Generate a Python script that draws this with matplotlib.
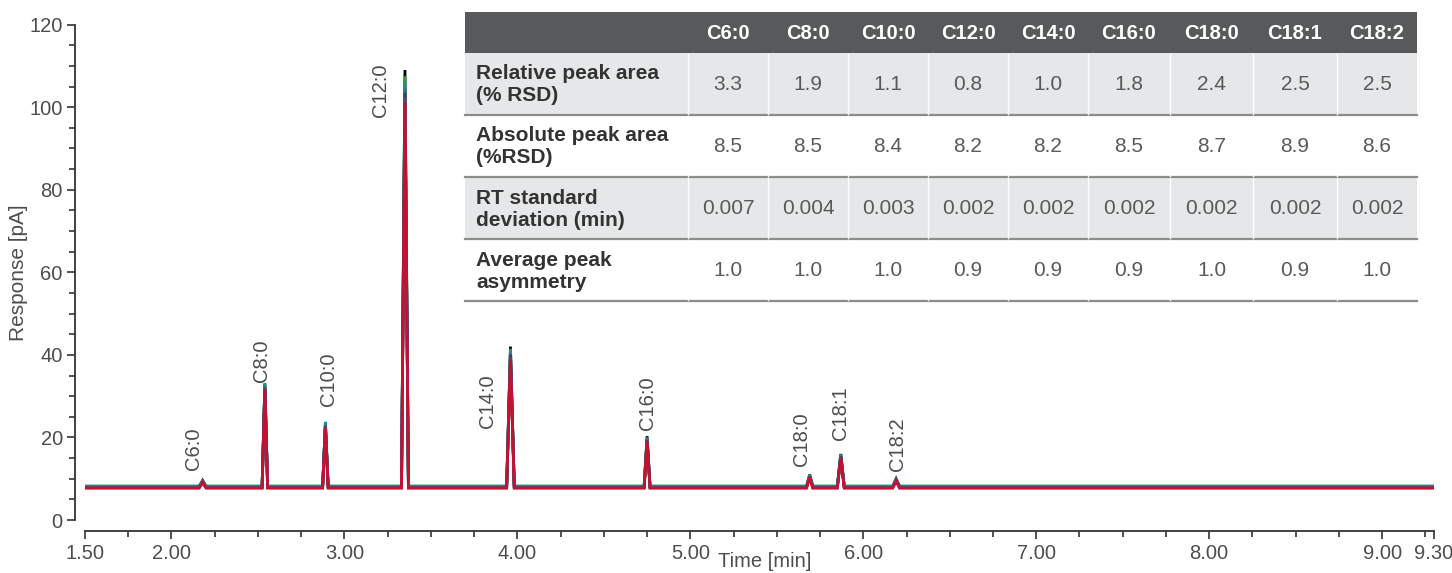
import numpy as np
import matplotlib
matplotlib.use("Agg")
import matplotlib.pyplot as plt
from matplotlib.patches import Rectangle
from matplotlib.ticker import MultipleLocator, FixedLocator

plt.rcParams['font.family'] = ['Liberation Sans', 'DejaVu Sans']

# peaks
compounds = ["C6:0", "C8:0", "C10:0", "C12:0", "C14:0", "C16:0", "C18:0", "C18:1", "C18:2"]
peak_rt = [2.18, 2.54, 2.89, 3.35, 3.96, 4.75, 5.69, 5.87, 6.19]
peak_halfwidth = [0.02, 0.016, 0.016, 0.02, 0.022, 0.017, 0.018, 0.02, 0.02]

# replicate runs (colour, baseline, peak heights)
run_colors = ["#000000", "#2e9e3a", "#16948f", "#4b6a7a", "#2c3f73", "#6a3d7c", "#c8102e"]
run_baseline = [8.1, 8.2, 8.2, 8.0, 7.9, 7.9, 7.7]
run_heights = [
    [9.6, 33.0, 23.6, 109.0, 42.0, 20.3, 11.0, 16.0, 10.0],
    [9.5, 32.6, 23.3, 107.5, 41.5, 20.0, 10.9, 15.8, 9.9],
    [9.4, 33.2, 23.8, 106.0, 41.2, 19.8, 10.8, 15.9, 9.8],
    [9.3, 32.4, 23.0, 104.5, 40.5, 19.6, 10.6, 15.6, 9.7],
    [9.2, 32.0, 22.8, 103.5, 40.0, 19.4, 10.5, 15.4, 9.6],
    [9.1, 31.8, 22.6, 102.5, 39.5, 19.2, 10.4, 15.2, 9.5],
    [9.0, 31.5, 22.3, 101.0, 38.8, 19.0, 10.3, 15.0, 9.4],
]

# peak label anchors (time, response at bottom of rotated text)
label_x = [2.13, 2.52, 2.91, 3.21, 3.83, 4.75, 5.64, 5.87, 6.20]
label_y = [12.0, 33.5, 27.5, 97.5, 22.3, 21.8, 13.0, 19.3, 11.8]

# table
table_cols = compounds
table_rows = ["Relative peak area\n(% RSD)", "Absolute peak area\n(%RSD)",
              "RT standard\ndeviation (min)", "Average peak\nasymmetry"]
table_vals = [
    ["3.3", "1.9", "1.1", "0.8", "1.0", "1.8", "2.4", "2.5", "2.5"],
    ["8.5", "8.5", "8.4", "8.2", "8.2", "8.5", "8.7", "8.9", "8.6"],
    ["0.007", "0.004", "0.003", "0.002", "0.002", "0.002", "0.002", "0.002", "0.002"],
    ["1.0", "1.0", "1.0", "0.9", "0.9", "0.9", "1.0", "0.9", "1.0"],
]

t_start, t_end = 1.50, 9.30
xticks = [1.5, 2, 3, 4, 5, 6, 7, 8, 9, 9.3]
xticklabels = ["1.50", "2.00", "3.00", "4.00", "5.00", "6.00", "7.00", "8.00", "9.00", "9.30"]

W, H = 1452, 573
fig = plt.figure(figsize=(W / 100, H / 100), dpi=100)
ax = fig.add_axes([85 / W, 1 - 520 / H, (1434 - 85) / W, (520 - 24.6) / H])

txt = "#4d4d4d"

for color, base, heights in zip(run_colors, run_baseline, run_heights):
    xs = [t_start]
    ys = [base]
    for rt, hw, h in zip(peak_rt, peak_halfwidth, heights):
        xs += [rt - hw, rt, rt + hw]
        ys += [base, h, base]
    xs.append(t_end)
    ys.append(base)
    ax.plot(xs, ys, color=color, lw=2.0, solid_joinstyle="miter")

for name, lx, ly in zip(compounds, label_x, label_y):
    ax.text(lx, ly, name, rotation=90, ha="center", va="bottom", fontsize=14.5, color=txt)

ax.set_xlim(t_start, t_end)
ax.set_ylim(0, 120)
for s in ["top", "right"]:
    ax.spines[s].set_visible(False)
ax.spines["left"].set_position(("outward", 7))
ax.spines["bottom"].set_position(("outward", 8))
ax.spines["left"].set_bounds(0, 120)
for s in ["left", "bottom"]:
    ax.spines[s].set_color("#333333")
    ax.spines[s].set_linewidth(1.3)

ax.yaxis.set_major_locator(MultipleLocator(20))
ax.yaxis.set_minor_locator(MultipleLocator(5))
ax.xaxis.set_major_locator(FixedLocator(xticks))
ax.set_xticklabels(xticklabels)
ax.xaxis.set_minor_locator(MultipleLocator(0.25))
ax.tick_params(which="major", length=6, width=1.2, color="#333333", labelsize=14.5, labelcolor=txt, pad=3)
ax.tick_params(which="minor", length=4, width=1.2, color="#333333")

ax.set_ylabel("Response [pA]", fontsize=15, color=txt)
ax.yaxis.set_label_coords(-0.042, 0.5)
ax.text(5.43, -0.083, "Time [min]", transform=ax.get_xaxis_transform(), ha="center", va="center",
        fontsize=14.5, color=txt)

# table drawn in pixel coordinates over the figure
tab = fig.add_axes([0, 0, 1, 1], zorder=5)
tab.set_xlim(0, W)
tab.set_ylim(H, 0)
tab.axis("off")
tab.patch.set_alpha(0)

col_edges = [465, 688, 768, 848, 928, 1008, 1088, 1170, 1253, 1337, 1417]
row_edges = [12, 52.5, 114.5, 177, 239, 301]

tab.add_patch(Rectangle((col_edges[0], row_edges[0]), col_edges[-1] - col_edges[0],
                        row_edges[1] - row_edges[0], color="#58595b", lw=0))
for i in range(len(table_rows)):
    y0, y1 = row_edges[i + 1], row_edges[i + 2]
    fc = "#e6e7e8" if i % 2 == 0 else "white"
    tab.add_patch(Rectangle((col_edges[0], y0), col_edges[-1] - col_edges[0], y1 - y0, color=fc, lw=0))
    tab.plot([col_edges[0], col_edges[-1]], [y1, y1], color="#8c8c8c", lw=1.6)
    for xe in col_edges[1:-1]:
        tab.plot([xe, xe], [y0 + 1, y1 - 1], color="white", lw=1)
    yc = (y0 + y1) / 2
    tab.text(col_edges[0] + 11, yc + 1, table_rows[i], ha="left", va="center", fontsize=15,
             fontweight="bold", color="#333333", linespacing=1.2)
    for j, v in enumerate(table_vals[i]):
        xc = (col_edges[j + 1] + col_edges[j + 2]) / 2
        tab.text(xc, yc + 1, v, ha="center", va="center", fontsize=15, color="#595959")

for j, c in enumerate(table_cols):
    xc = (col_edges[j + 1] + col_edges[j + 2]) / 2
    tab.text(xc, (row_edges[0] + row_edges[1]) / 2 + 1, c, ha="center", va="center", fontsize=14.5,
             fontweight="bold", color="white")

fig.savefig("out.png", dpi=100)
